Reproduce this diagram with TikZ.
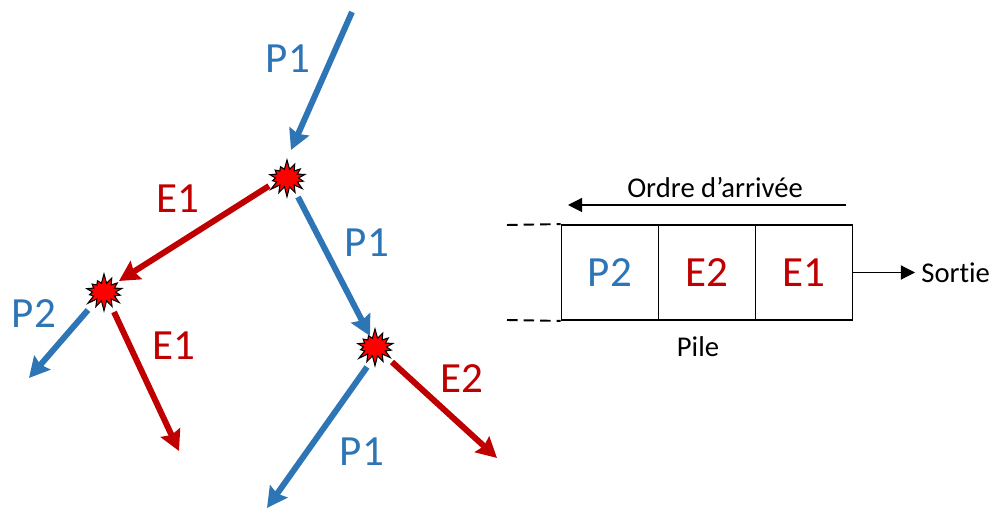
\documentclass[tikz,border=0pt]{standalone}
\usepackage{fontspec}
\usepackage{xcolor}
\setmainfont{Carlito}[RawFeature={-liga}]
\usetikzlibrary{arrows.meta,shapes.symbols}
\definecolor{partBlue}{RGB}{46,117,182}
\definecolor{partRed}{RGB}{192,0,0}
\tikzset{
  burst/.style={starburst,starburst points=14,starburst point height=0.2cm,random starburst=7,
    draw=black,fill=red,line width=0.6pt,minimum width=0.86cm,minimum height=0.76cm,inner sep=0pt},
  track/.style={line width=3.4pt,-{Stealth[length=11.5pt,width=12pt,inset=1.5pt]}},
  blueTrack/.style={track,partBlue},
  redTrack/.style={track,partRed},
  blueLabel/.style={text=partBlue,font=\fontsize{24.5}{24.5}\selectfont},
  redLabel/.style={text=partRed,font=\fontsize{24.5}{24.5}\selectfont},
  cell/.style={draw=black,line width=1.1pt,minimum width=1.94cm,minimum height=1.9cm,inner sep=0pt},
  thinArrow/.style={line width=0.65pt,-{Triangle[length=8pt,width=8pt]}},
  plainLabel/.style={text=black,font=\fontsize{16.3}{16.3}\selectfont}
}
\begin{document}
\begin{tikzpicture}[x=0.02cm,y=-0.02cm]
\useasboundingbox (0,0) rectangle (991,509);

\node[burst] (burstA) at (287,178) {};
\node[burst] (burstB) at (104,292) {};
\node[burst] (burstC) at (375,347) {};

\coordinate (start) at (352,12);
\coordinate (endP2) at (29,378);
\coordinate (endE1) at (179,451);
\coordinate (endP1) at (267,508);
\coordinate (endE2) at (497,458);

\draw[blueTrack] (start) -- ([shift={(4,-28)}]burstA.center);
\draw[redTrack] ([shift={(-18,8)}]burstA.center) -- ([shift={(15,-11)}]burstB.center);
\draw[blueTrack] ([shift={(11,19)}]burstA.center) -- ([shift={(-5,-11)}]burstC.center);
\draw[blueTrack] ([shift={(-16,18)}]burstB.center) -- (endP2);
\draw[redTrack] ([shift={(10,20)}]burstB.center) -- (endE1);
\draw[blueTrack] ([shift={(-8,20)}]burstC.center) -- (endP1);
\draw[redTrack] ([shift={(17,15)}]burstC.center) -- (endE2);

\node[blueLabel] (labelA) at (288,59) {P1};
\node[redLabel] (labelB) at (178,199) {E1};
\node[blueLabel] (labelC) at (367,243) {P1};
\node[blueLabel] (labelD) at (34,314) {P2};
\node[redLabel] (labelE) at (174,346) {E1};
\node[redLabel] (labelF) at (462,379) {E2};
\node[blueLabel] (labelG) at (362,452) {P1};

\node[cell,blueLabel] (cellP) at (610,272.5) {P2};
\node[cell,redLabel] (cellE) at (707,272.5) {E2};
\node[cell,redLabel] (cellF) at (804,272.5) {E1};

\coordinate (dashTop) at (507,225);
\coordinate (dashBot) at (507,320);
\draw[line width=1.1pt,dash pattern=on 6pt off 3.4pt] (dashTop) -- (cellP.north west);
\draw[line width=1.1pt,dash pattern=on 6pt off 3.4pt] (dashBot) -- (cellP.south west);

\node[plainLabel] (ordre) at (715,188) {Ordre d’arrivée};
\coordinate (ordreR) at (846,205);
\coordinate (ordreL) at (568,205);
\draw[thinArrow] (ordreR) -- (ordreL);

\node[plainLabel,anchor=west,inner sep=0pt] (sortie) at (921,272.5) {Sortie};
\draw[thinArrow] (cellF.east) -- (915,272.5);
\node[plainLabel] (pile) at (698,347) {Pile};
\end{tikzpicture}
\end{document}
